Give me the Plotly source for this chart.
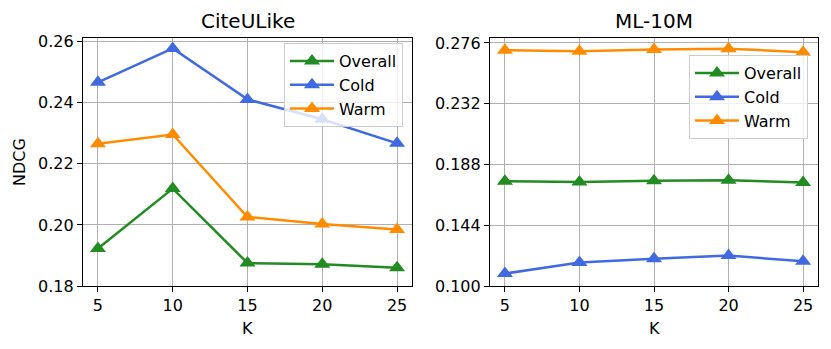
import plotly.graph_objects as go

# page is 831x349; the html body has an 8px margin, so the figure is drawn inset
W, H = 831, 349
OFF = 8
FW, FH = W - 2 * OFF, H - 2 * OFF

k_values = [5, 10, 15, 20, 25]

# CiteULike NDCG
cite_overall = [0.1923, 0.2119, 0.1875, 0.1871, 0.1860]
cite_cold = [0.2467, 0.2578, 0.2411, 0.2346, 0.2267]
cite_warm = [0.2266, 0.2296, 0.2026, 0.2003, 0.1985]

# ML-10M NDCG
ml_overall = [0.1758, 0.1753, 0.1763, 0.1766, 0.1749]
ml_cold = [0.1090, 0.1170, 0.1198, 0.1220, 0.1179]
ml_warm = [0.2707, 0.2700, 0.2712, 0.2719, 0.2693]

cite_yticks = [0.18, 0.20, 0.22, 0.24, 0.26]
ml_yticks = [0.100, 0.144, 0.188, 0.232, 0.276]

series_colors = {"Overall": "#228B22", "Cold": "#4169E1", "Warm": "#FF8C00"}
FONT = "DejaVu Sans"


def px_x(p):
    return (p - OFF) / FW


def px_y(p):
    return 1 - (p - OFF) / FH


fig = go.Figure()

panels = [
    ("x", "y", "legend", {"Overall": cite_overall, "Cold": cite_cold, "Warm": cite_warm}),
    ("x2", "y2", "legend2", {"Overall": ml_overall, "Cold": ml_cold, "Warm": ml_warm}),
]
for xa, ya, leg, series in panels:
    for name in ["Overall", "Cold", "Warm"]:
        fig.add_trace(go.Scatter(
            x=k_values, y=series[name], mode="lines+markers", name=name,
            xaxis=xa, yaxis=ya, legend=leg,
            line=dict(color=series_colors[name], width=2.5),
            marker=dict(symbol="triangle-up", size=14, color=series_colors[name]),
        ))

axis_common = dict(
    showline=True, linecolor="black", linewidth=1.2, mirror=True,
    showgrid=True, gridcolor="#b0b0b0", gridwidth=1.2,
    ticks="outside", ticklen=5, tickcolor="black", tickwidth=1.2,
    tickfont=dict(family=FONT, size=16, color="black"),
    zeroline=False, automargin=False,
)

legend_common = dict(
    xanchor="left", yanchor="top", itemwidth=44,
    bgcolor="rgba(255,255,255,0.8)", bordercolor="#cccccc", borderwidth=1,
    font=dict(family=FONT, size=16),
)

fig.update_layout(
    width=FW, height=FH,
    margin=dict(l=0, r=0, t=0, b=0),
    plot_bgcolor="white", paper_bgcolor="white",
    font=dict(family=FONT, size=16, color="black"),
    xaxis=dict(domain=[px_x(83), px_x(412)], range=[4, 26], tickvals=k_values,
               anchor="y", **axis_common),
    yaxis=dict(domain=[px_y(286), px_y(38)], range=[0.18, 0.2612], tickvals=cite_yticks,
               tickformat=".2f", anchor="x", **axis_common),
    xaxis2=dict(domain=[px_x(490), px_x(818)], range=[4, 26], tickvals=k_values,
                anchor="y2", **axis_common),
    yaxis2=dict(domain=[px_y(286), px_y(38)], range=[0.1, 0.2796], tickvals=ml_yticks,
                tickformat=".3f", anchor="x2", **axis_common),
    legend=dict(x=px_x(284), y=px_y(43), **legend_common),
    legend2=dict(x=px_x(689), y=px_y(55), **legend_common),
)

annots = [
    ("CiteULike", (83 + 412) / 2, 21, 20, 0),
    ("ML-10M", (490 + 818) / 2, 21, 20, 0),
    ("K", (83 + 412) / 2, 328, 16, 0),
    ("K", (490 + 818) / 2, 328, 16, 0),
    ("NDCG", 19, 162, 16, -90),
]
for text, cx, cy, size, ang in annots:
    fig.add_annotation(text=text, x=px_x(cx), y=px_y(cy), xref="paper", yref="paper",
                       xanchor="center", yanchor="middle", showarrow=False,
                       textangle=ang, font=dict(family=FONT, size=size, color="black"))

fig.write_html("out.html")
